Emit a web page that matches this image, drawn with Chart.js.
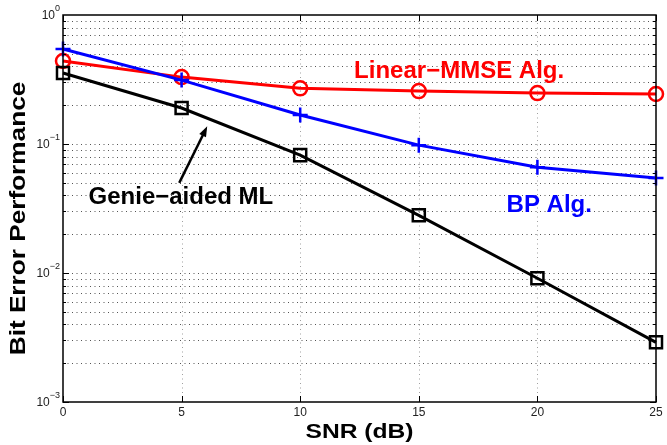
<!DOCTYPE html>
<html>
<head>
<meta charset="utf-8">
<script src="https://cdn.jsdelivr.net/npm/chart.js@4"></script>
<style>
  html, body { margin: 0; padding: 0; background: #fff; }
  #wrap { width: 667px; height: 445px; position: relative; }
</style>
</head>
<body>
<div id="wrap"><canvas id="berChart"></canvas></div>
<script>
// SNR points (dB)
const snr = [0, 5, 10, 15, 20, 25];
// bit error rates
const genieML = [0.355, 0.19, 0.082, 0.028, 0.0091, 0.0029];
const linearMMSE = [0.44, 0.33, 0.27, 0.257, 0.248, 0.244];
const bpAlg = [0.545, 0.313, 0.168, 0.098, 0.066, 0.0545];
const xTicks = [0, 5, 10, 15, 20, 25];
const yTickExp = [0, -1, -2, -3];

const FONT = "'Liberation Sans', Arial, Helvetica, sans-serif";

function toPoints(ys) {
    return snr.map((x, i) => ({ x: x, y: ys[i] }));
}

// text a bit wider than plain Arial, like the original figure
function wideText(ctx, txt, x, y, stretch) {
    ctx.save();
    ctx.translate(x, y);
    ctx.scale(stretch, 1);
    ctx.fillText(txt, 0, 0);
    ctx.restore();
}

// dotted grid behind the curves
const dottedGrid = {
    id: "dottedGrid",
    beforeDatasetsDraw(chart) {
        const ctx = chart.ctx;
        const a = chart.chartArea;
        const xs = chart.scales.x;
        const ys = chart.scales.y;
        ctx.save();
        ctx.lineWidth = 1;
        ctx.setLineDash([1, 3.5]);
        ctx.strokeStyle = "#a0a0a0";
        xTicks.slice(1, -1).forEach((t) => {
            const px = Math.round(xs.getPixelForValue(t)) + 0.5;
            ctx.beginPath();
            ctx.moveTo(px, a.bottom); ctx.lineTo(px, a.top);
            ctx.stroke();
        });
        ctx.strokeStyle = "#555";
        for (let e = -3; e < 0; e++) {
            for (let m = 1; m <= 9; m++) {
                if (e === -3 && m === 1) continue;
                const py = Math.round(ys.getPixelForValue(m * Math.pow(10, e))) + 0.5;
                ctx.beginPath();
                ctx.moveTo(a.left, py); ctx.lineTo(a.right, py);
                ctx.stroke();
            }
        }
        ctx.restore();
    },
};

// axis box, tick labels, text notes and arrow
const decorations = {
    id: "decorations",
    afterDraw(chart) {
        const ctx = chart.ctx;
        const a = chart.chartArea;
        const xs = chart.scales.x;
        const ys = chart.scales.y;
        ctx.save();

        // box
        ctx.strokeStyle = "#000";
        ctx.lineWidth = 1.5;
        ctx.strokeRect(a.left, a.top, a.right - a.left, a.bottom - a.top);

        // inner tick marks
        ctx.lineWidth = 1;
        xTicks.forEach((t) => {
            const px = Math.round(xs.getPixelForValue(t)) + 0.5;
            ctx.beginPath();
            ctx.moveTo(px, a.bottom); ctx.lineTo(px, a.bottom - 6);
            ctx.moveTo(px, a.top); ctx.lineTo(px, a.top + 6);
            ctx.stroke();
        });
        for (let e = -3; e < 0; e++) {
            for (let m = 1; m <= 9; m++) {
                const py = Math.round(ys.getPixelForValue(m * Math.pow(10, e))) + 0.5;
                const len = m === 1 ? 6 : 3;
                ctx.beginPath();
                ctx.moveTo(a.left, py); ctx.lineTo(a.left + len, py);
                ctx.moveTo(a.right, py); ctx.lineTo(a.right - len, py);
                ctx.stroke();
            }
        }

        // x tick labels
        ctx.fillStyle = "#222";
        ctx.font = "12px " + FONT;
        ctx.textAlign = "center";
        ctx.textBaseline = "top";
        xTicks.forEach((t) => {
            ctx.fillText(String(t), xs.getPixelForValue(t), a.bottom + 5);
        });

        // y tick labels 10^k
        yTickExp.forEach((k) => {
            const py = ys.getPixelForValue(Math.pow(10, k));
            ctx.textBaseline = "middle";
            ctx.font = "9px " + FONT;
            const sup = k === 0 ? "0" : "\u2212" + Math.abs(k);
            const sw = ctx.measureText(sup).width;
            ctx.textAlign = "left";
            ctx.fillText(sup, a.left - 3 - sw, py - 6);
            ctx.font = "12px " + FONT;
            ctx.textAlign = "right";
            ctx.fillText("10", a.left - 3 - sw, py + 1);
        });

        // axis titles
        ctx.fillStyle = "#000";
        ctx.font = "bold 20.5px " + FONT;
        ctx.textAlign = "center";
        ctx.textBaseline = "alphabetic";
        wideText(ctx, "SNR (dB)", (a.left + a.right) / 2, 438, 1.2);
        ctx.save();
        ctx.translate(25, (a.top + a.bottom) / 2 + 10);
        ctx.rotate(-Math.PI / 2);
        ctx.font = "bold 22px " + FONT;
        wideText(ctx, "Bit Error Performance", 0, 0, 1.19);
        ctx.restore();

        // curve notes
        ctx.font = "bold 24px " + FONT;
        ctx.textBaseline = "middle";
        ctx.fillStyle = "#ff0000";
        ctx.fillText("Linear\u2212MMSE Alg.", xs.getPixelForValue(16.7), ys.getPixelForValue(0.368));
        ctx.fillStyle = "#0000ff";
        ctx.fillText("BP Alg.", xs.getPixelForValue(20.5), ys.getPixelForValue(0.0336));
        ctx.fillStyle = "#000";
        ctx.fillText("Genie\u2212aided ML", xs.getPixelForValue(4.97), ys.getPixelForValue(0.0388));

        // arrow
        const x0 = xs.getPixelForValue(4.9), y0 = ys.getPixelForValue(0.05);
        const x1 = xs.getPixelForValue(6.08), y1 = ys.getPixelForValue(0.137);
        ctx.strokeStyle = "#000";
        ctx.lineWidth = 2.5;
        const ang = Math.atan2(y1 - y0, x1 - x0);
        ctx.beginPath();
        ctx.moveTo(x0, y0); ctx.lineTo(x1 - 6 * Math.cos(ang), y1 - 6 * Math.sin(ang));
        ctx.stroke();
        ctx.beginPath();
        ctx.moveTo(x1, y1);
        ctx.lineTo(x1 - 11 * Math.cos(ang - 0.35), y1 - 11 * Math.sin(ang - 0.35));
        ctx.lineTo(x1 - 11 * Math.cos(ang + 0.35), y1 - 11 * Math.sin(ang + 0.35));
        ctx.closePath();
        ctx.fillStyle = "#000";
        ctx.fill();

        ctx.restore();
    },
};

const ctx = document.getElementById("berChart").getContext("2d");
new Chart(ctx, {
    type: "line",
    data: {
        datasets: [
            {
                label: "Genie-aided ML",
                data: toPoints(genieML),
                borderColor: "#000",
                borderWidth: 3,
                pointStyle: "rect",
                pointRadius: 8.5,
                pointBorderWidth: 2.5,
                pointBorderColor: "#000",
                pointBackgroundColor: "rgba(0,0,0,0)",
                clip: false,
            },
            {
                label: "BP Alg.",
                data: toPoints(bpAlg),
                borderColor: "#0000ff",
                borderWidth: 3,
                pointStyle: "cross",
                pointRadius: 7.5,
                pointBorderWidth: 2.5,
                pointBorderColor: "#0000ff",
                clip: false,
            },
            {
                label: "Linear-MMSE Alg.",
                data: toPoints(linearMMSE),
                borderColor: "#ff0000",
                borderWidth: 3,
                pointStyle: "circle",
                pointRadius: 7,
                pointBorderWidth: 2.5,
                pointBorderColor: "#ff0000",
                pointBackgroundColor: "rgba(0,0,0,0)",
                clip: false,
            },
        ],
    },
    options: {
        responsive: true,
        maintainAspectRatio: false,
        animation: false,
        events: [],
        layout: { padding: { left: 63, right: 8, top: 15, bottom: 43 } },
        plugins: { legend: { display: false }, tooltip: { enabled: false } },
        elements: { line: { tension: 0 } },
        scales: {
            x: {
                type: "linear",
                min: 0,
                max: 25,
                ticks: { display: false, stepSize: 5 },
                grid: { display: false, drawTicks: false },
                border: { display: false },
            },
            y: {
                type: "logarithmic",
                min: 0.001,
                max: 1,
                ticks: { display: false },
                grid: { display: false, drawTicks: false },
                border: { display: false },
            },
        },
    },
    plugins: [dottedGrid, decorations],
});
</script>
</body>
</html>
